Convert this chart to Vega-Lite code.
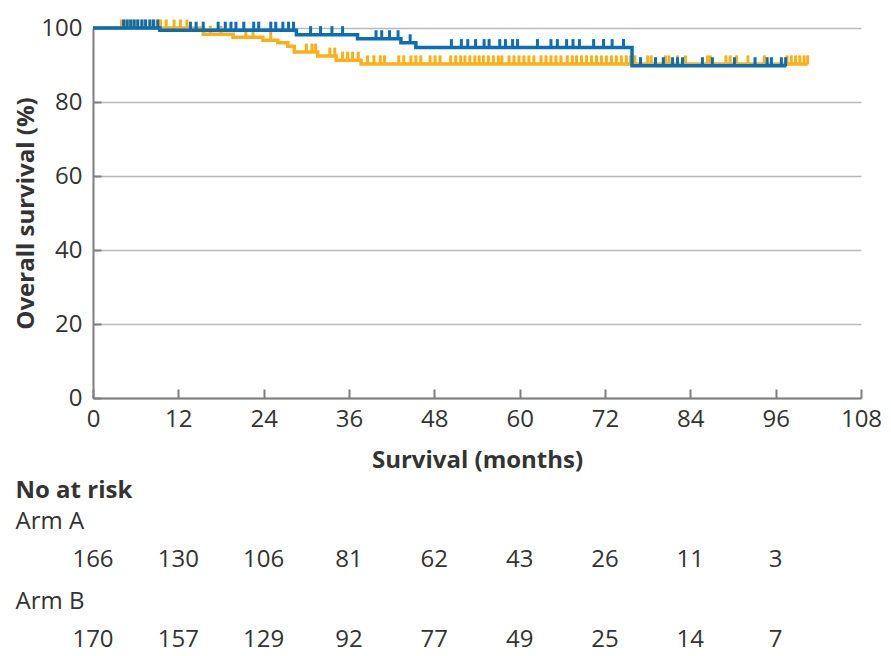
{
  "$schema": "https://vega.github.io/schema/vega-lite/v6.json",
  "padding": {"left": 14, "top": 16, "right": 5, "bottom": 5},
  "background": "white",
  "config": {
    "font": "Open Sans",
    "view": {"stroke": null},
    "axis": {"labelFont": "Open Sans", "titleFont": "Open Sans", "labelColor": "#333333", "titleColor": "#333333", "labelFontSize": 24, "titleFontSize": 24, "titleFontWeight": "bold"},
    "concat": {"spacing": 5}
  },
  "datasets": {
    "steps": [
      {"arm": "Arm A", "month": 0, "surv": 100}, {"arm": "Arm A", "month": 9.4, "surv": 99.4}, {"arm": "Arm A", "month": 28.6, "surv": 98.2}, {"arm": "Arm A", "month": 37.2, "surv": 97.1}, {"arm": "Arm A", "month": 43.3, "surv": 96.0}, {"arm": "Arm A", "month": 45.4, "surv": 94.7}, {"arm": "Arm A", "month": 75.8, "surv": 89.8}, {"arm": "Arm A", "month": 97.5, "surv": 89.8},
      {"arm": "Arm B", "month": 0, "surv": 100}, {"arm": "Arm B", "month": 15.5, "surv": 98.3}, {"arm": "Arm B", "month": 19.7, "surv": 97.5}, {"arm": "Arm B", "month": 23.9, "surv": 96.7}, {"arm": "Arm B", "month": 26.0, "surv": 96.0}, {"arm": "Arm B", "month": 27.4, "surv": 95.1}, {"arm": "Arm B", "month": 28.3, "surv": 93.5}, {"arm": "Arm B", "month": 31.6, "surv": 92.4}, {"arm": "Arm B", "month": 34.2, "surv": 91.3}, {"arm": "Arm B", "month": 37.7, "surv": 90.3}, {"arm": "Arm B", "month": 100.5, "surv": 90.3}
    ],
    "censor": [
      {"arm": "Arm A", "month": 4.3, "surv": 100}, {"arm": "Arm A", "month": 4.8, "surv": 100}, {"arm": "Arm A", "month": 5.3, "surv": 100}, {"arm": "Arm A", "month": 5.8, "surv": 100}, {"arm": "Arm A", "month": 6.3, "surv": 100}, {"arm": "Arm A", "month": 6.9, "surv": 100}, {"arm": "Arm A", "month": 7.4, "surv": 100}, {"arm": "Arm A", "month": 8.0, "surv": 100}, {"arm": "Arm A", "month": 8.5, "surv": 100}, {"arm": "Arm A", "month": 9.1, "surv": 100},
      {"arm": "Arm A", "month": 13.7, "surv": 99.4}, {"arm": "Arm A", "month": 14.5, "surv": 99.4}, {"arm": "Arm A", "month": 15.5, "surv": 99.4}, {"arm": "Arm A", "month": 17.6, "surv": 99.4}, {"arm": "Arm A", "month": 18.6, "surv": 99.4}, {"arm": "Arm A", "month": 19.4, "surv": 99.4}, {"arm": "Arm A", "month": 20.1, "surv": 99.4}, {"arm": "Arm A", "month": 21.2, "surv": 99.4}, {"arm": "Arm A", "month": 22.6, "surv": 99.4}, {"arm": "Arm A", "month": 23.3, "surv": 99.4}, {"arm": "Arm A", "month": 25.0, "surv": 99.4}, {"arm": "Arm A", "month": 25.7, "surv": 99.4}, {"arm": "Arm A", "month": 26.7, "surv": 99.4}, {"arm": "Arm A", "month": 27.5, "surv": 99.4}, {"arm": "Arm A", "month": 28.2, "surv": 99.4},
      {"arm": "Arm A", "month": 30.6, "surv": 98.2}, {"arm": "Arm A", "month": 32.0, "surv": 98.2}, {"arm": "Arm A", "month": 33.6, "surv": 98.2}, {"arm": "Arm A", "month": 35.1, "surv": 98.2},
      {"arm": "Arm A", "month": 39.8, "surv": 97.1}, {"arm": "Arm A", "month": 40.6, "surv": 97.1}, {"arm": "Arm A", "month": 41.7, "surv": 97.1}, {"arm": "Arm A", "month": 42.9, "surv": 97.1},
      {"arm": "Arm A", "month": 44.6, "surv": 96.0},
      {"arm": "Arm A", "month": 50.4, "surv": 94.7}, {"arm": "Arm A", "month": 51.8, "surv": 94.7}, {"arm": "Arm A", "month": 52.7, "surv": 94.7}, {"arm": "Arm A", "month": 53.8, "surv": 94.7}, {"arm": "Arm A", "month": 55.0, "surv": 94.7}, {"arm": "Arm A", "month": 55.7, "surv": 94.7}, {"arm": "Arm A", "month": 57.2, "surv": 94.7}, {"arm": "Arm A", "month": 58.0, "surv": 94.7}, {"arm": "Arm A", "month": 59.0, "surv": 94.7}, {"arm": "Arm A", "month": 59.7, "surv": 94.7}, {"arm": "Arm A", "month": 62.5, "surv": 94.7}, {"arm": "Arm A", "month": 64.4, "surv": 94.7}, {"arm": "Arm A", "month": 65.3, "surv": 94.7}, {"arm": "Arm A", "month": 66.6, "surv": 94.7}, {"arm": "Arm A", "month": 67.5, "surv": 94.7}, {"arm": "Arm A", "month": 68.4, "surv": 94.7}, {"arm": "Arm A", "month": 70.4, "surv": 94.7}, {"arm": "Arm A", "month": 71.8, "surv": 94.7}, {"arm": "Arm A", "month": 73.0, "surv": 94.7}, {"arm": "Arm A", "month": 74.6, "surv": 94.7},
      {"arm": "Arm A", "month": 77.0, "surv": 89.8}, {"arm": "Arm A", "month": 79.1, "surv": 89.8}, {"arm": "Arm A", "month": 80.2, "surv": 89.8}, {"arm": "Arm A", "month": 81.5, "surv": 89.8}, {"arm": "Arm A", "month": 82.2, "surv": 89.8}, {"arm": "Arm A", "month": 82.9, "surv": 89.8}, {"arm": "Arm A", "month": 85.7, "surv": 89.8}, {"arm": "Arm A", "month": 87.1, "surv": 89.8}, {"arm": "Arm A", "month": 90.2, "surv": 89.8}, {"arm": "Arm A", "month": 93.1, "surv": 89.8}, {"arm": "Arm A", "month": 94.8, "surv": 89.8}, {"arm": "Arm A", "month": 95.4, "surv": 89.8}, {"arm": "Arm A", "month": 96.8, "surv": 89.8}, {"arm": "Arm A", "month": 97.4, "surv": 89.8},
      {"arm": "Arm B", "month": 4.0, "surv": 100}, {"arm": "Arm B", "month": 4.5, "surv": 100}, {"arm": "Arm B", "month": 5.0, "surv": 100}, {"arm": "Arm B", "month": 5.6, "surv": 100}, {"arm": "Arm B", "month": 6.2, "surv": 100}, {"arm": "Arm B", "month": 6.8, "surv": 100}, {"arm": "Arm B", "month": 7.4, "surv": 100}, {"arm": "Arm B", "month": 8.0, "surv": 100}, {"arm": "Arm B", "month": 8.6, "surv": 100}, {"arm": "Arm B", "month": 9.2, "surv": 100}, {"arm": "Arm B", "month": 9.5, "surv": 100}, {"arm": "Arm B", "month": 10.3, "surv": 100}, {"arm": "Arm B", "month": 11.4, "surv": 100}, {"arm": "Arm B", "month": 12.3, "surv": 100}, {"arm": "Arm B", "month": 13.2, "surv": 100},
      {"arm": "Arm B", "month": 16.5, "surv": 98.3}, {"arm": "Arm B", "month": 18.0, "surv": 98.3},
      {"arm": "Arm B", "month": 21.5, "surv": 97.5}, {"arm": "Arm B", "month": 22.5, "surv": 97.5},
      {"arm": "Arm B", "month": 25.0, "surv": 96.7},
      {"arm": "Arm B", "month": 30.0, "surv": 93.5}, {"arm": "Arm B", "month": 30.8, "surv": 93.5}, {"arm": "Arm B", "month": 31.3, "surv": 93.5},
      {"arm": "Arm B", "month": 33.3, "surv": 92.4}, {"arm": "Arm B", "month": 34.0, "surv": 92.4},
      {"arm": "Arm B", "month": 35.1, "surv": 91.3}, {"arm": "Arm B", "month": 35.8, "surv": 91.3}, {"arm": "Arm B", "month": 36.5, "surv": 91.3}, {"arm": "Arm B", "month": 37.3, "surv": 91.3},
      {"arm": "Arm B", "month": 38.6, "surv": 90.3}, {"arm": "Arm B", "month": 39.5, "surv": 90.3}, {"arm": "Arm B", "month": 40.4, "surv": 90.3}, {"arm": "Arm B", "month": 41.0, "surv": 90.3}, {"arm": "Arm B", "month": 43.0, "surv": 90.3}, {"arm": "Arm B", "month": 43.7, "surv": 90.3}, {"arm": "Arm B", "month": 44.7, "surv": 90.3}, {"arm": "Arm B", "month": 45.4, "surv": 90.3}, {"arm": "Arm B", "month": 46.1, "surv": 90.3}, {"arm": "Arm B", "month": 47.4, "surv": 90.3}, {"arm": "Arm B", "month": 48.1, "surv": 90.3}, {"arm": "Arm B", "month": 48.8, "surv": 90.3}, {"arm": "Arm B", "month": 50.3, "surv": 90.3}, {"arm": "Arm B", "month": 51.0, "surv": 90.3}, {"arm": "Arm B", "month": 51.7, "surv": 90.3}, {"arm": "Arm B", "month": 52.3, "surv": 90.3}, {"arm": "Arm B", "month": 53.0, "surv": 90.3}, {"arm": "Arm B", "month": 53.7, "surv": 90.3}, {"arm": "Arm B", "month": 54.3, "surv": 90.3}, {"arm": "Arm B", "month": 54.9, "surv": 90.3}, {"arm": "Arm B", "month": 55.6, "surv": 90.3}, {"arm": "Arm B", "month": 56.3, "surv": 90.3}, {"arm": "Arm B", "month": 57.0, "surv": 90.3}, {"arm": "Arm B", "month": 57.5, "surv": 90.3}, {"arm": "Arm B", "month": 58.5, "surv": 90.3}, {"arm": "Arm B", "month": 59.2, "surv": 90.3}, {"arm": "Arm B", "month": 59.9, "surv": 90.3}, {"arm": "Arm B", "month": 60.6, "surv": 90.3}, {"arm": "Arm B", "month": 61.3, "surv": 90.3}, {"arm": "Arm B", "month": 62.0, "surv": 90.3}, {"arm": "Arm B", "month": 63.0, "surv": 90.3}, {"arm": "Arm B", "month": 63.7, "surv": 90.3}, {"arm": "Arm B", "month": 64.4, "surv": 90.3}, {"arm": "Arm B", "month": 65.1, "surv": 90.3}, {"arm": "Arm B", "month": 65.8, "surv": 90.3}, {"arm": "Arm B", "month": 66.7, "surv": 90.3}, {"arm": "Arm B", "month": 67.4, "surv": 90.3}, {"arm": "Arm B", "month": 68.0, "surv": 90.3}, {"arm": "Arm B", "month": 68.7, "surv": 90.3}, {"arm": "Arm B", "month": 69.4, "surv": 90.3}, {"arm": "Arm B", "month": 70.1, "surv": 90.3}, {"arm": "Arm B", "month": 70.8, "surv": 90.3}, {"arm": "Arm B", "month": 71.5, "surv": 90.3}, {"arm": "Arm B", "month": 72.2, "surv": 90.3}, {"arm": "Arm B", "month": 72.9, "surv": 90.3}, {"arm": "Arm B", "month": 73.6, "surv": 90.3}, {"arm": "Arm B", "month": 74.3, "surv": 90.3}, {"arm": "Arm B", "month": 75.0, "surv": 90.3}, {"arm": "Arm B", "month": 75.6, "surv": 90.3}, {"arm": "Arm B", "month": 76.2, "surv": 90.3}, {"arm": "Arm B", "month": 78.0, "surv": 90.3}, {"arm": "Arm B", "month": 78.5, "surv": 90.3}, {"arm": "Arm B", "month": 80.5, "surv": 90.3}, {"arm": "Arm B", "month": 81.0, "surv": 90.3}, {"arm": "Arm B", "month": 82.2, "surv": 90.3}, {"arm": "Arm B", "month": 83.3, "surv": 90.3}, {"arm": "Arm B", "month": 86.4, "surv": 90.3}, {"arm": "Arm B", "month": 86.8, "surv": 90.3}, {"arm": "Arm B", "month": 89.0, "surv": 90.3}, {"arm": "Arm B", "month": 89.6, "surv": 90.3}, {"arm": "Arm B", "month": 90.5, "surv": 90.3}, {"arm": "Arm B", "month": 92.1, "surv": 90.3}, {"arm": "Arm B", "month": 94.4, "surv": 90.3}, {"arm": "Arm B", "month": 97.6, "surv": 90.3}, {"arm": "Arm B", "month": 98.2, "surv": 90.3}, {"arm": "Arm B", "month": 98.8, "surv": 90.3}, {"arm": "Arm B", "month": 99.4, "surv": 90.3}, {"arm": "Arm B", "month": 100.0, "surv": 90.3}, {"arm": "Arm B", "month": 100.5, "surv": 90.3}
    ],
    "risk": [
      {"arm": "Arm A", "month": 0, "n": 166}, {"arm": "Arm A", "month": 12, "n": 130}, {"arm": "Arm A", "month": 24, "n": 106}, {"arm": "Arm A", "month": 36, "n": 81}, {"arm": "Arm A", "month": 48, "n": 62}, {"arm": "Arm A", "month": 60, "n": 43}, {"arm": "Arm A", "month": 72, "n": 26}, {"arm": "Arm A", "month": 84, "n": 11}, {"arm": "Arm A", "month": 96, "n": 3},
      {"arm": "Arm B", "month": 0, "n": 170}, {"arm": "Arm B", "month": 12, "n": 157}, {"arm": "Arm B", "month": 24, "n": 129}, {"arm": "Arm B", "month": 36, "n": 92}, {"arm": "Arm B", "month": 48, "n": 77}, {"arm": "Arm B", "month": 60, "n": 49}, {"arm": "Arm B", "month": 72, "n": 25}, {"arm": "Arm B", "month": 84, "n": 14}, {"arm": "Arm B", "month": 96, "n": 7}
    ]
  },
  "vconcat": [
    {
      "width": 768,
      "height": 370,
      "encoding": {
        "x": {"field": "month", "type": "quantitative", "scale": {"domain": [0, 108], "nice": false, "zero": false},
              "axis": {"title": "Survival (months)", "values": [0, 12, 24, 36, 48, 60, 72, 84, 96, 108], "grid": false, "domainColor": "#7f7f7f", "domainWidth": 2, "tickColor": "#7f7f7f", "tickWidth": 2, "tickSize": -9, "labelPadding": 18.5, "titlePadding": 17, "labelFlush": false}},
        "y": {"field": "surv", "type": "quantitative", "scale": {"domain": [0, 100], "nice": false},
              "axis": {"title": "Overall survival (%)", "values": [0, 20, 40, 60, 80, 100], "grid": true, "gridColor": "#b8b8b8", "gridWidth": 1.5, "domainColor": "#7f7f7f", "domainWidth": 2, "tickColor": "#7f7f7f", "tickWidth": 2, "tickSize": -8, "labelPadding": 19, "titlePadding": 2, "labelFlush": false}}
      },
      "layer": [
        {"data": {"name": "steps"}, "transform": [{"filter": "datum.arm === 'Arm B'"}],
         "mark": {"type": "line", "interpolate": "step-after", "color": "#fbb01a", "strokeWidth": 3.5}},
        {"data": {"name": "censor"}, "transform": [{"filter": "datum.arm === 'Arm B'"}],
         "mark": {"type": "tick", "orient": "vertical", "size": 9, "thickness": 3, "yOffset": -4, "color": "#fbb01a", "opacity": 1}},
        {"data": {"name": "steps"}, "transform": [{"filter": "datum.arm === 'Arm A'"}],
         "mark": {"type": "line", "interpolate": "step-after", "color": "#0b6db6", "strokeWidth": 3.5}},
        {"data": {"name": "censor"}, "transform": [{"filter": "datum.arm === 'Arm A'"}],
         "mark": {"type": "tick", "orient": "vertical", "size": 9, "thickness": 3, "yOffset": -4, "color": "#0b6db6", "opacity": 1}},
        {"data": {"values": [{}]},
         "mark": {"type": "text", "text": "P=0.27", "fontSize": 24, "color": "#333333", "align": "right", "baseline": "middle", "font": "Open Sans"},
         "encoding": {"x": {"datum": 105.6, "type": "quantitative"}, "y": {"datum": 28.5, "type": "quantitative"}}}
      ]
    },
    {
      "width": 768,
      "height": 80,
      "data": {"name": "risk"},
      "mark": {"type": "text", "fontSize": 24, "color": "#333333", "align": "center", "baseline": "middle", "font": "Open Sans"},
      "encoding": {
        "x": {"field": "month", "type": "quantitative", "scale": {"domain": [0, 108], "nice": false, "zero": false}, "axis": null},
        "y": {"field": "arm", "type": "nominal", "scale": {"type": "point", "padding": 0, "domain": ["Arm A", "Arm B"]},
              "axis": {"title": "No at risk", "titleAngle": 0, "titleAlign": "left", "titleBaseline": "middle", "titleX": -78, "titleY": -70, "labelAlign": "left", "labelBaseline": "middle", "labelPadding": 78, "labelOffset": -39, "ticks": false, "domain": false, "grid": false}},
        "text": {"field": "n", "type": "quantitative"}
      }
    }
  ]
}
